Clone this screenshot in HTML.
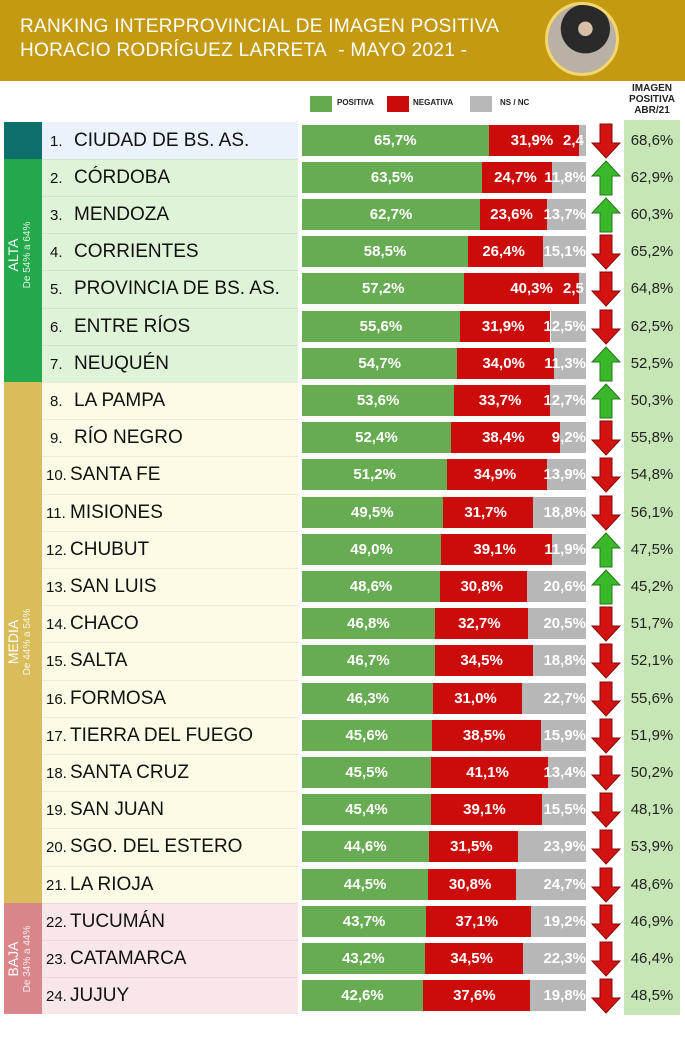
<!DOCTYPE html>
<html><head><meta charset="utf-8">
<style>
body{margin:0;width:685px;height:1024px;overflow:hidden;background:#fff;font-family:"Liberation Sans",sans-serif;position:relative}
.a{position:absolute}
.hdr{left:0;top:0;width:685px;height:81px;background:#c39a12}
.t{left:20px;color:#fff;font-size:19px;letter-spacing:0.3px;white-space:nowrap}
.photo{left:545px;top:2px;width:74px;height:74px;border-radius:50%;background:radial-gradient(circle at 55% 35%,#d8c0a8 0 12%,#2a2a2a 13% 42%,#b9b0a6 43%);border:3px solid #f3d76a;box-sizing:border-box}
.leg{top:96px;height:16px}
.lt{top:98px;font-size:8px;font-weight:bold;color:#222}
.name{font-size:19px;color:#111;white-space:nowrap}
.num{display:inline-block;width:24px;font-size:15px}
.seg{top:0;height:100%;color:#fff;font-weight:bold;font-size:15px;line-height:31px;white-space:nowrap;box-sizing:border-box}
.rc{left:624px;width:56px;background:#c7e6b6}
.rv{font-size:15px;color:#222;width:56px;text-align:center}
.vt{transform:rotate(-90deg);transform-origin:center;color:#fff;text-align:center;white-space:nowrap}
</style></head><body>
<div class="a hdr"></div>
<div class="a t" style="top:16px">RANKING INTERPROVINCIAL DE IMAGEN POSITIVA</div>
<div class="a t" style="top:40px">HORACIO RODRÍGUEZ LARRETA&nbsp; - MAYO 2021 -</div>
<div class="a photo"></div>
<div class="a leg" style="left:310px;width:22px;background:#66aa50"></div>
<div class="a lt" style="left:337px">POSITIVA</div>
<div class="a leg" style="left:387px;width:22px;background:#cc0a0a"></div>
<div class="a lt" style="left:413px">NEGATIVA</div>
<div class="a leg" style="left:470px;width:22px;background:#b8b8b8"></div>
<div class="a lt" style="left:500px">NS / NC</div>
<div class="a" style="left:622px;top:83px;width:60px;text-align:center;font-size:10px;font-weight:bold;line-height:11px;color:#222">IMAGEN<br>POSITIVA<br>ABR/21</div>
<div class="a rc" style="top:120px;height:895px"></div>
<div id="rows"></div>
<script>
var d=[["CIUDAD DE BS. AS.",65.7,31.9,2.4,"2,4",68.6,0],["CÓRDOBA",63.5,24.7,11.8,0,62.9,1],["MENDOZA",62.7,23.6,13.7,0,60.3,1],["CORRIENTES",58.5,26.4,15.1,0,65.2,0],["PROVINCIA DE BS. AS.",57.2,40.3,2.5,"2,5",64.8,0],["ENTRE RÍOS",55.6,31.9,12.5,0,62.5,0],["NEUQUÉN",54.7,34.0,11.3,0,52.5,1],["LA PAMPA",53.6,33.7,12.7,0,50.3,1],["RÍO NEGRO",52.4,38.4,9.2,0,55.8,0],["SANTA FE",51.2,34.9,13.9,0,54.8,0],["MISIONES",49.5,31.7,18.8,0,56.1,0],["CHUBUT",49.0,39.1,11.9,0,47.5,1],["SAN LUIS",48.6,30.8,20.6,0,45.2,1],["CHACO",46.8,32.7,20.5,0,51.7,0],["SALTA",46.7,34.5,18.8,0,52.1,0],["FORMOSA",46.3,31.0,22.7,0,55.6,0],["TIERRA DEL FUEGO",45.6,38.5,15.9,0,51.9,0],["SANTA CRUZ",45.5,41.1,13.4,0,50.2,0],["SAN JUAN",45.4,39.1,15.5,0,48.1,0],["SGO. DEL ESTERO",44.6,31.5,23.9,0,53.9,0],["LA RIOJA",44.5,30.8,24.7,0,48.6,0],["TUCUMÁN",43.7,37.1,19.2,0,46.9,0],["CATAMARCA",43.2,34.5,22.3,0,46.4,0],["JUJUY",42.6,37.6,19.8,0,48.5,0]];
function f(v){return v.toFixed(1).replace('.',',')+'%'}
var h='',H=37.2,T=121.5,S=2.84;
function band(top,bot,c,bg){h+='<div class="a" style="left:4px;top:'+top+'px;width:38px;height:'+(bot-top)+'px;background:'+c+'"></div><div class="a" style="left:42px;top:'+top+'px;width:256px;height:'+(bot-top)+'px;background:'+bg+'"></div>';}
band(T,T+H,'#0f6f6c','#eaf3fb');band(T+H,T+7*H,'#23a94b','#dff3d8');band(T+7*H,T+21*H,'#d9bd5a','#fdfbe6');band(T+21*H,T+24*H,'#d9868a','#f9e6e8');
function vl(top,bot,a,b){var c=(top+bot)/2;h+='<div class="a vt" style="left:-79px;top:'+(c-16)+'px;width:200px;height:32px"><div style="font-size:14px;line-height:16px">'+a+'</div><div style="font-size:10px;line-height:13px;opacity:.85">'+b+'</div></div>';}
vl(T+H,T+7*H-30,'ALTA','De 54% a 64%');vl(T+7*H,T+21*H,'MEDIA','De 44% a 54%');vl(T+21*H,T+24*H,'BAJA','De 34% a 44%');
d.forEach(function(r,i){var y=T+H*i;
 if(i>0)h+='<div class="a" style="left:42px;top:'+y+'px;width:256px;height:1px;background:rgba(0,0,0,.06)"></div>';
 h+='<div class="a name" style="left:'+(i<9?50:46)+'px;top:'+(y+8)+'px"><span class="num">'+(i+1)+'.</span>'+r[0]+'</div>';
 var g=r[1]*S,rd=r[2]*S,gy=284-g-rd;
 h+='<div class="a" style="left:302px;top:'+(y+3)+'px;width:284px;height:31px">'+
 '<div class="a seg" style="left:0;width:'+g+'px;background:#67ab52;text-align:center">'+f(r[1])+'</div>'+
 '<div class="a seg" style="left:'+g+'px;width:'+rd+'px;background:#cc0b0b;text-align:'+(r[4]?'right':'center')+';padding-right:'+(r[4]?26:4)+'px">'+f(r[2])+'</div>'+
 '<div class="a seg" style="left:'+(g+rd)+'px;width:'+gy+'px;background:#b7b7b7;text-align:right;direction:rtl">'+(r[4]?'':f(r[3]))+'</div>'+
 (r[4]?'<div class="a seg" style="left:261px;width:23px;overflow:hidden">'+r[4]+'</div>':'')+'</div>';
 var up=r[6];
 h+='<svg class="a" style="left:591px;top:'+(y+1)+'px" width="30" height="36" viewBox="0 0 30 36">'+(up?
 '<path d="M15 1 L29 16 L21 16 L21 35 L9 35 L9 16 L1 16 Z" fill="#3bb82a" stroke="#1f7a15" stroke-width="1"/>':
 '<path d="M15 35 L29 20 L21 20 L21 1 L9 1 L9 20 L1 20 Z" fill="#d31212" stroke="#8a0808" stroke-width="1"/>')+'</svg>';
 h+='<div class="a rv" style="left:624px;top:'+(y+10)+'px">'+f(r[5])+'</div>';
});
document.getElementById('rows').innerHTML=h;
</script>
</body></html>
